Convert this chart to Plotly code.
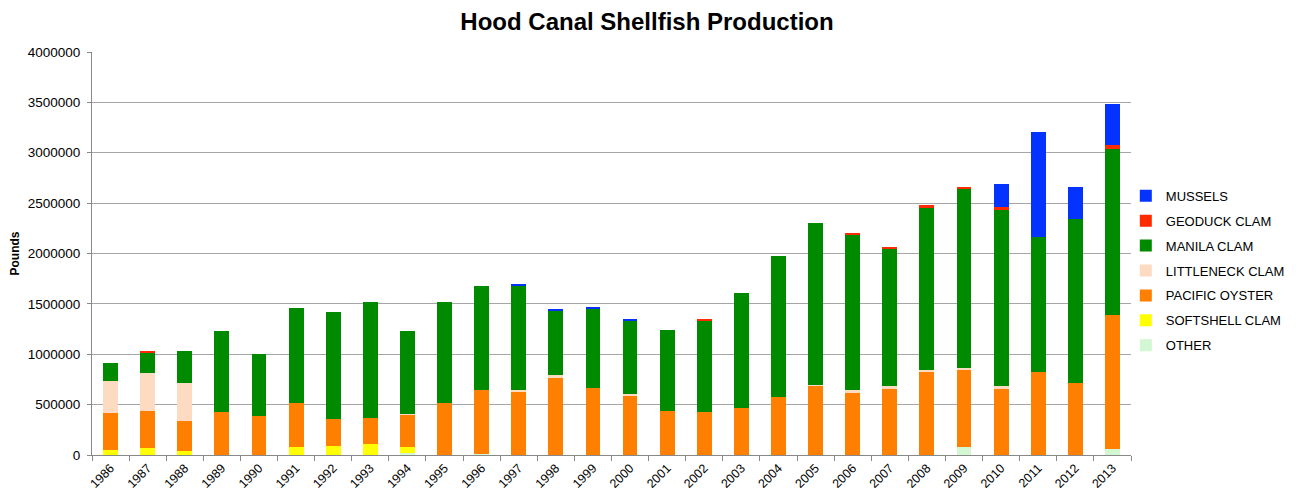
import plotly.graph_objects as go

years = [str(y) for y in range(1986, 2014)]

other = [0, 0, 0, 0, 0, 0, 0, 0, 20000, 0, 10000, 0, 0, 0,
         0, 0, 0, 0, 0, 0, 0, 0, 0, 80000, 0, 0, 0, 55000]
softshell = [50000, 65000, 35000, 0, 0, 75000, 90000, 105000, 62000, 0, 0, 0, 0, 0,
             0, 0, 0, 0, 0, 0, 0, 0, 0, 0, 0, 0, 0, 0]
pacific_oyster = [365000, 370000, 300000, 427000, 384000, 444000, 267000, 265000, 318000, 516000,
                  638000, 635000, 767000, 662000, 595000, 437000, 424000, 463000, 573000, 688000,
                  618000, 658000, 821000, 767000, 655000, 821000, 718000, 1335000]
littleneck = [320000, 380000, 381000, 0, 0, 0, 0, 0, 8000, 0,
              0, 10000, 27000, 0, 10000, 0, 0, 0, 0, 10000,
              27000, 30000, 24000, 13000, 33000, 0, 0, 0]
manila = [178000, 198000, 317000, 804000, 621000, 937000, 1059000, 1152000, 823000, 1006000,
          1032000, 1040000, 638000, 793000, 733000, 807000, 906000, 1148000, 1399000, 1605000,
          1539000, 1357000, 1614000, 1780000, 1747000, 1340000, 1625000, 1650000]
geoduck = [0, 17000, 0, 0, 0, 0, 0, 0, 0, 0,
           0, 0, 0, 0, 0, 0, 15000, 0, 0, 0,
           20000, 20000, 19000, 20000, 27000, 0, 0, 34000]
mussels = [0, 0, 0, 0, 0, 0, 0, 0, 0, 0,
           0, 15000, 14000, 14000, 12000, 0, 0, 0, 0, 0,
           0, 0, 0, 0, 225000, 1042000, 317000, 410000]

series = [
    ("OTHER", other, "#D2F7D2"),
    ("SOFTSHELL CLAM", softshell, "#FFFF00"),
    ("PACIFIC OYSTER", pacific_oyster, "#FF7F00"),
    ("LITTLENECK CLAM", littleneck, "#FCDBC2"),
    ("MANILA CLAM", manila, "#008A00"),
    ("GEODUCK CLAM", geoduck, "#FF2A00"),
    ("MUSSELS", mussels, "#0433FF"),
]

fig = go.Figure()
n = len(series)
for i, (name, vals, color) in enumerate(series):
    fig.add_trace(go.Bar(
        x=years, y=vals, name=name, legendgroup=name, legendrank=n - i,
        marker=dict(color=color, line=dict(width=0)),
    ))

font_family = "Liberation Sans, Arial, sans-serif"
W, H = 1288, 485
fig.update_layout(
    width=W, height=H,
    barmode="stack", bargap=0.6,
    plot_bgcolor="white", paper_bgcolor="white",
    font=dict(family=font_family, size=12, color="black"),
    title=dict(text="<b>Hood Canal Shellfish Production</b>", x=639 / W, xanchor="center",
               xref="container", y=1 - 14 / H, yanchor="middle",
               font=dict(size=24, color="black")),
    margin=dict(l=84, r=165, t=44, b=38, autoexpand=False),
    legend=dict(x=0.995, xanchor="left", y=0.457, yanchor="middle",
                traceorder="grouped", tracegroupgap=5,
                font=dict(size=13, color="black"), itemwidth=30,
                bgcolor="rgba(0,0,0,0)"),
    showlegend=True,
)
fig.update_xaxes(
    type="category", tickangle=-45, ticks="outside", tickson="boundaries",
    ticklen=5, tickcolor="#888888", showline=True, linecolor="#888888", linewidth=1,
    tickfont=dict(size=12.5), automargin=False,
)
fig.update_yaxes(
    range=[0, 4000000], dtick=500000, tickformat="d",
    showgrid=True, gridcolor="#A6A6A6", gridwidth=1,
    ticks="outside", ticklen=4, tickcolor="#888888",
    showline=True, linecolor="#888888", linewidth=1,
    tickfont=dict(size=13.5), automargin=False, zeroline=False,
    ticklabelstandoff=4,
    title=dict(text="<b>Pounds</b>", font=dict(size=12), standoff=6),
)

fig.write_html("out.html")
